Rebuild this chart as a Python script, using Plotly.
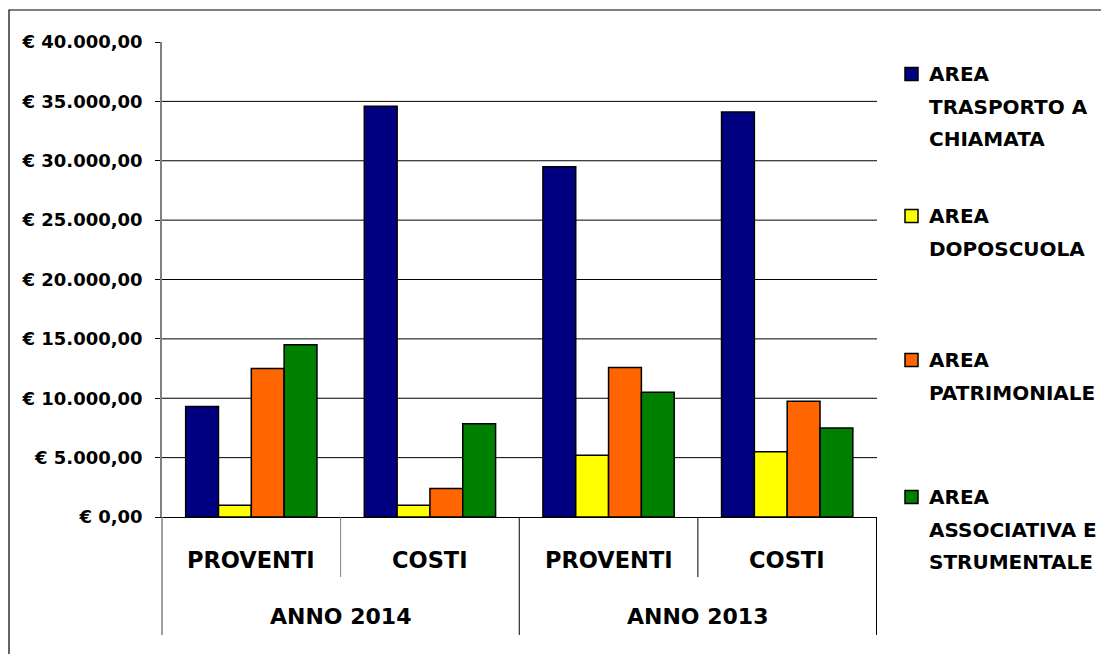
import plotly.graph_objects as go

# ---- data ----
years = ["ANNO 2014", "ANNO 2014", "ANNO 2013", "ANNO 2013"]
kinds = ["PROVENTI", "COSTI", "PROVENTI", "COSTI"]
series_names = ["AREA TRASPORTO A CHIAMATA", "AREA DOPOSCUOLA",
                "AREA PATRIMONIALE", "AREA ASSOCIATIVA E STRUMENTALE"]
legend_lines = [["AREA", "TRASPORTO A", "CHIAMATA"],
                ["AREA", "DOPOSCUOLA"],
                ["AREA", "PATRIMONIALE"],
                ["AREA", "ASSOCIATIVA E", "STRUMENTALE"]]
trasporto = [9300, 34600, 29500, 34100]
doposcuola = [1000, 1000, 5200, 5500]
patrimoniale = [12500, 2400, 12600, 9750]
associativa = [14500, 7850, 10500, 7500]
tick_vals = [0, 5000, 10000, 15000, 20000, 25000, 30000, 35000, 40000]
colors = ["#000080", "#FFFF00", "#FF6600", "#008000"]

values = [trasporto, doposcuola, patrimoniale, associativa]
keys = [f"{y}|{k}|{i}" for i, (y, k) in enumerate(zip(years, kinds))]


def eur(v):
    s = f"{v:,.2f}"
    s = s.replace(",", "X").replace(".", ",").replace("X", ".")
    return "€ " + s


tick_text = [eur(v) for v in tick_vals]

FONT = "DejaVu Sans"
W, H = 1101, 654
L, R, T, B = 162, 224, 42, 137
PW, PH = W - L - R, H - T - B


def px_x(x):
    return (x - L) / PW


def px_y(y):
    return (H - B - y) / PH


fig = go.Figure()
for name, vals, col in zip(series_names, values, colors):
    fig.add_trace(go.Bar(
        x=keys, y=vals, name=name,
        marker=dict(color=col, line=dict(color="black", width=1.5)),
        showlegend=False,
    ))

shapes = []
# horizontal grid lines (without the top one)
for v in tick_vals[1:-1]:
    shapes.append(dict(type="line", xref="paper", yref="y", x0=0, x1=1,
                       y0=v, y1=v, line=dict(color="black", width=1),
                       layer="below"))
# axis line extension below plot
shapes.append(dict(type="line", xref="paper", yref="paper", x0=0, x1=0,
                   y0=0, y1=px_y(635), line=dict(color="#808080", width=1.5)))
# dividers between categories
for xi, ybot, col in [(0.5, 577, "#808080"), (1.5, 635, "black"),
                      (2.5, 577, "black"), (3.5, 635, "black")]:
    shapes.append(dict(type="line", xref="x", yref="paper", x0=xi, x1=xi,
                       y0=0, y1=px_y(ybot), line=dict(color=col, width=1)))
# outer frame
shapes.append(dict(type="rect", xref="paper", yref="paper",
                   x0=px_x(9), x1=px_x(1200), y0=px_y(720), y1=px_y(10),
                   line=dict(color="black", width=1.2), fillcolor="rgba(0,0,0,0)"))

annotations = []
for i, k in enumerate(kinds):
    annotations.append(dict(x=i, y=px_y(560), xref="x", yref="paper",
                            xanchor="center", yanchor="middle",
                            text=k, showarrow=False,
                            font=dict(family=FONT, size=22.5, color="black", weight="bold")))
year_groups = []
for i, y in enumerate(years):
    if not year_groups or year_groups[-1][0] != y:
        year_groups.append([y, [i]])
    else:
        year_groups[-1][1].append(i)
for y, idx in year_groups:
    annotations.append(dict(x=sum(idx) / len(idx), y=px_y(616), xref="x", yref="paper",
                            xanchor="center", yanchor="middle",
                            text=y, showarrow=False,
                            font=dict(family=FONT, size=22, color="black", weight="bold")))

# legend (manual, to match spacing)
entry_tops = [74, 216, 360, 497]
line_step = 32.5
for lines, col, top in zip(legend_lines, colors, entry_tops):
    shapes.append(dict(type="rect", xref="paper", yref="paper",
                       x0=px_x(905), x1=px_x(918), y0=px_y(top + 6.5), y1=px_y(top - 6.5),
                       fillcolor=col, line=dict(color="black", width=1.5)))
    for j, ln in enumerate(lines):
        annotations.append(dict(x=px_x(927), y=px_y(top + j * line_step),
                                xref="paper", yref="paper", xanchor="left", yanchor="middle",
                                text=ln, showarrow=False,
                                font=dict(family=FONT, size=20, color="black", weight="bold")))

fig.update_layout(
    width=W, height=H,
    margin=dict(l=L, r=R, t=T, b=B, pad=0),
    paper_bgcolor="white", plot_bgcolor="white",
    barmode="group", bargap=0.265, bargroupgap=0,
    shapes=shapes, annotations=annotations,
    showlegend=False,
    xaxis=dict(type="category", showticklabels=False, ticks="",
               showgrid=False, showline=True, linecolor="black", linewidth=1,
               zeroline=False),
    yaxis=dict(range=[0, 40000], tickvals=tick_vals, ticktext=tick_text,
               showgrid=False, zeroline=False, showline=True,
               linecolor="#808080", linewidth=1.5,
               ticks="outside", ticklen=5, tickcolor="black", tickwidth=1,
               ticklabelstandoff=9,
               tickfont=dict(family=FONT, size=18, color="black", weight="bold")),
)

fig.write_html("out.html", config={"displayModeBar": False},
               post_script="document.body.style.margin='0';document.body.style.overflow='hidden';")
